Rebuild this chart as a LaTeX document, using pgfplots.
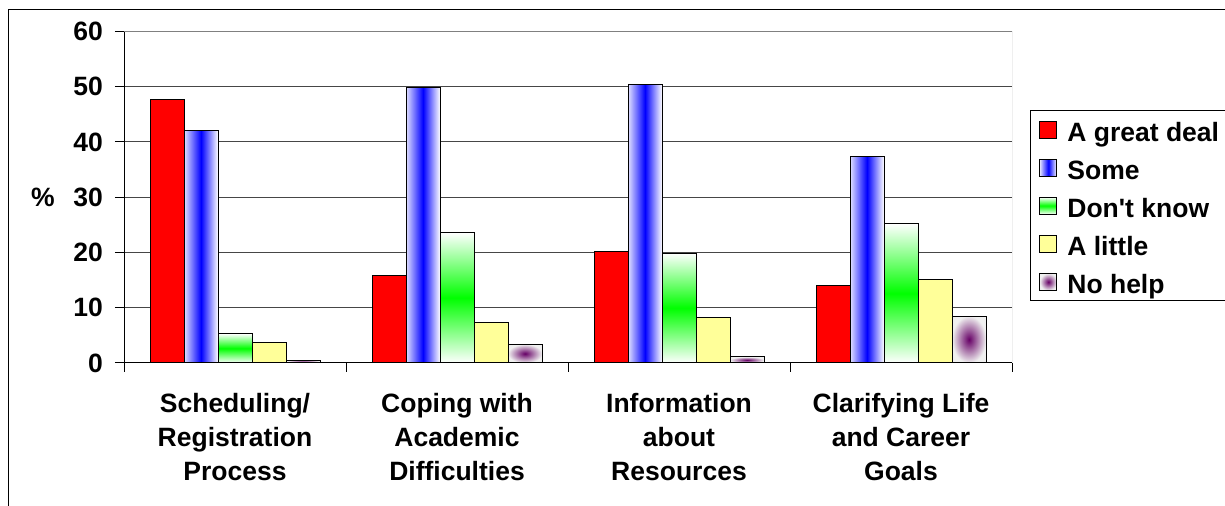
\documentclass[border=0pt]{standalone}
\usepackage{pgfplots}
\pgfplotsset{compat=1.18}
\usepackage{fontspec}
\setmainfont{Liberation Sans}

\definecolor{barred}{RGB}{255,0,0}
\definecolor{barblue}{RGB}{0,0,255}
\definecolor{bargreen}{RGB}{0,255,0}
\definecolor{baryellow}{RGB}{255,255,153}
\definecolor{barpurple}{RGB}{102,0,102}
\definecolor{gridgray}{RGB}{70,70,70}

\newcommand{\chartfont}{\bfseries\fontsize{13.25}{17.1}\selectfont}

\pgfplotsset{
  sqlegend/.style={legend image code/.code={\draw[##1, line width=0.5pt] (0pt,-1.75pt) rectangle (8.5pt,6.75pt);}},
  barbase/.style={ybar, bar width=17pt, draw=black, line width=0.5pt, sqlegend},
  % one style per answer; each bar is its own path so that gradients fill each bar
  sGreat/.style={barbase, bar shift=-34pt, fill=barred},
  sSome/.style={barbase, bar shift=-17pt, left color=barblue!12, right color=white, middle color=barblue},
  sDont/.style={barbase, bar shift=0pt, top color=white, bottom color=white, middle color=bargreen},
  sLittle/.style={barbase, bar shift=17pt, fill=baryellow},
  sNone/.style={barbase, bar shift=34pt, inner color=barpurple, outer color=black!6},
}

\begin{document}
\begin{tikzpicture}[x=1pt,y=1pt]
\useasboundingbox (0,0) rectangle (612.5,253);
% outer chart frame
\draw[line width=0.5pt] (4.15,-5) -- (4.15,248.35) -- (630,248.35);
% legend frame
\draw[line width=0.5pt] (515.35,102.65) rectangle (640,197.65);
\begin{axis}[
  at={(62pt,71.5pt)}, anchor=south west,
  scale only axis, width=444pt, height=165.75pt,
  xmin=-0.5, xmax=3.5, ymin=0, ymax=60,
  ytick={0,10,...,60},
  xtick={0,1,2,3},
  xticklabels={{Scheduling/\\Registration\\Process},
               {Coping with\\Academic\\Difficulties},
               {Information\\about\\Resources},
               {Clarifying Life\\and Career\\Goals}},
  minor xtick={-0.5,0.5,1.5,2.5,3.5},
  axis x line*=bottom, axis y line*=left,
  axis line style={-, black, line width=0.5pt},
  tick pos=left, tick align=outside,
  major tick length=4.5pt, minor tick length=4.5pt,
  tick style={black, line width=0.5pt},
  major x tick style={draw=none},
  ymajorgrids, major grid style={gridgray, line width=0.5pt},
  /pgf/number format/assume math mode=true,
  tick label style={font=\chartfont},
  xticklabel style={align=center, anchor=north, yshift=-7pt},
  yticklabel style={xshift=-2.5pt},
  ylabel={\%},
  ylabel style={rotate=-90, at={(axis description cs:0,0.5)}, anchor=center, xshift=-40.5pt, font=\chartfont},
  legend style={draw=none, fill=none, at={(axis description cs:1.0304,0.7325)}, anchor=north west,
    inner sep=0pt, row sep=5.8pt, column sep=5pt, font=\chartfont,
    nodes={inner sep=0pt, text height=9.5pt, text depth=3pt}},
  legend cell align=left,
  every axis plot post/.append style={sqlegend},
]
% Scheduling/Registration Process
\addplot[sGreat]  coordinates {(0,47.7)};
\addplot[sSome]   coordinates {(0,42.1)};
\addplot[sDont]   coordinates {(0,5.3)};
\addplot[sLittle] coordinates {(0,3.7)};
\addplot[sNone]   coordinates {(0,0.5)};
\legend{A great deal, Some, Don\textquotesingle t know, A little, No help}
% Coping with Academic Difficulties
\addplot[sGreat, forget plot]  coordinates {(1,15.9)};
\addplot[sSome, forget plot]   coordinates {(1,49.9)};
\addplot[sDont, forget plot]   coordinates {(1,23.6)};
\addplot[sLittle, forget plot] coordinates {(1,7.4)};
\addplot[sNone, forget plot]   coordinates {(1,3.4)};
% Information about Resources
\addplot[sGreat, forget plot]  coordinates {(2,20.2)};
\addplot[sSome, forget plot]   coordinates {(2,50.4)};
\addplot[sDont, forget plot]   coordinates {(2,19.9)};
\addplot[sLittle, forget plot] coordinates {(2,8.3)};
\addplot[sNone, forget plot]   coordinates {(2,1.1)};
% Clarifying Life and Career Goals
\addplot[sGreat, forget plot]  coordinates {(3,14.0)};
\addplot[sSome, forget plot]   coordinates {(3,37.4)};
\addplot[sDont, forget plot]   coordinates {(3,25.2)};
\addplot[sLittle, forget plot] coordinates {(3,15.1)};
\addplot[sNone, forget plot]   coordinates {(3,8.5)};
\draw[gray, line width=0.5pt] (rel axis cs:0,1) -- (rel axis cs:1,1) -- (rel axis cs:1,0);
\end{axis}
\end{tikzpicture}
\end{document}
